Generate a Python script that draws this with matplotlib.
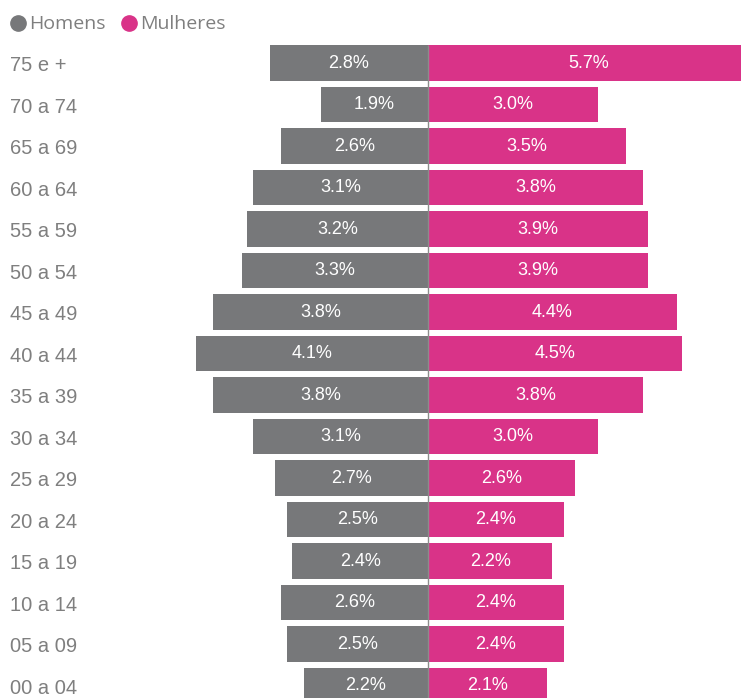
import matplotlib
matplotlib.use("Agg")
import matplotlib.pyplot as plt
from matplotlib.lines import Line2D

age_groups = ["75 e +", "70 a 74", "65 a 69", "60 a 64", "55 a 59", "50 a 54",
              "45 a 49", "40 a 44", "35 a 39", "30 a 34", "25 a 29", "20 a 24",
              "15 a 19", "10 a 14", "05 a 09", "00 a 04"]
homens = [2.8, 1.9, 2.6, 3.1, 3.2, 3.3, 3.8, 4.1, 3.8, 3.1, 2.7, 2.5, 2.4, 2.6, 2.5, 2.2]
mulheres = [5.7, 3.0, 3.5, 3.8, 3.9, 3.9, 4.4, 4.5, 3.8, 3.0, 2.6, 2.4, 2.2, 2.4, 2.4, 2.1]
series_names = ["Homens", "Mulheres"]

GRAY = "#77787a"
PINK = "#d93388"
TEXT = "#7f7f7f"

W, H = 741, 698
fig = plt.figure(figsize=(W / 100, H / 100), dpi=100)
ax = fig.add_axes([0, 0, 1, 1])

# pixel layout: centre line at x=428, ~56.5 px per percent; rows 41.5 px apart
px_per_pct = 56.5
x0 = 428
row0, row_step = 63, 41.5
ax.set_xlim(-x0 / px_per_pct, (W - x0) / px_per_pct)
ax.set_ylim((H - row0) / row_step, -row0 / row_step)
ax.axis("off")

ys = list(range(len(age_groups)))
bh = 0.845
ax.barh(ys, [-v for v in homens], height=bh, color=GRAY, edgecolor="none")
ax.barh(ys, mulheres, height=bh, color=PINK, edgecolor="none")
ax.vlines(0, -bh / 2, len(ys), color="#8c8c8c", lw=1.0, zorder=3)

for y, v in zip(ys, homens):
    ax.text(-v / 2, y + 0.01, f"{v:.1f}%", ha="center", va="center", color="white",
            fontsize=13, family="Liberation Sans", zorder=4)
for y, v in zip(ys, mulheres):
    ax.text(v / 2, y + 0.01, f"{v:.1f}%", ha="center", va="center", color="white",
            fontsize=13, family="Liberation Sans", zorder=4)

xl = ax.get_xlim()[0]
for y, lab in zip(ys, age_groups):
    ax.text(xl + 10 / px_per_pct, y + 0.07, lab, ha="left", va="center", color=TEXT,
            fontsize=14.5, family="Liberation Sans")

# legend drawn in figure pixel coordinates
def fx(px):
    return px / W

def fy(py):
    return 1 - py / H

for cx, tx, col, name in [(18, 29, GRAY, series_names[0]), (129, 140, PINK, series_names[1])]:
    fig.add_artist(Line2D([fx(cx)], [fy(23)], marker="o", markersize=11,
                          color=col, transform=fig.transFigure, linestyle="none"))
    fig.text(fx(tx), fy(24), name, ha="left", va="center", color=TEXT,
             fontsize=14, family="Open Sans")

fig.savefig("out.png", dpi=100)
